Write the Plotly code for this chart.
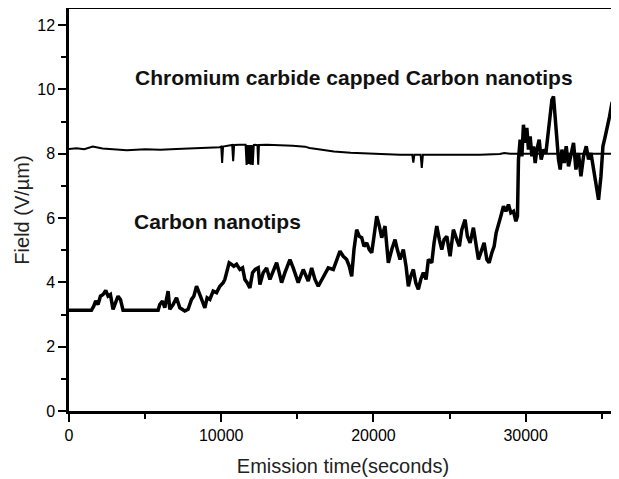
import plotly.graph_objects as go

# Carbon nanotips (time in s, field in V/um)
carbon_t = [0, 1473, 1624, 1756, 1907, 2065, 2236, 2413, 2565, 2722, 2894, 3071, 3222, 3380, 3551,
            5853, 5964, 6142, 6293, 6510, 6622, 6839, 7063, 7280, 7608, 7825, 8049, 8200, 8378, 8595,
            8772, 8924, 9075, 9253, 9469, 9693, 9910, 10127, 10239, 10351, 10522, 10679, 10831, 11008,
            11225, 11403, 11554, 11705, 11883, 12060, 12231, 12429, 12540, 12757, 12981, 13198, 13415,
            13639, 13810, 13967, 14185, 14514, 14730, 15059, 15388, 15717, 15941, 16158, 16374, 16703,
            17032, 17361, 17624, 17801, 18018, 18242, 18413, 18570, 18722, 18899, 19070, 19228, 19380,
            19557, 19728, 19886, 20037, 20215, 20386, 20544, 20761, 20872, 20978, 21201, 21418, 21570,
            21747, 21964, 22142, 22293, 22451, 22621, 22779, 22950, 23108, 23279, 23457, 23608, 23832,
            23983, 24160, 24331, 24489, 24641, 24818, 25035, 25252, 25475, 25646, 25804, 26021, 26173,
            26350, 26567, 26745, 26896, 27120, 27271, 27449, 27600, 27778, 27929, 28060, 28212, 28370,
            28541, 28699, 28870, 29028, 29199, 29357, 29461, 29527, 29637, 29749, 29855, 29967, 30078,
            30184, 30296, 30408, 30513, 30625, 30737, 30888, 31020, 31171, 31329, 31461, 31612, 31724,
            31829, 31941, 32053, 32157, 32269, 32381, 32532, 32663, 32815, 32973, 33144, 33302, 33473,
            33631, 33802, 33980, 34131, 34289, 34458, 34616, 34787, 34945, 35076, 35228, 35379, 35511,
            35669, 35820, 36000]
carbon_v = [3.13, 3.13, 3.26, 3.42, 3.31, 3.57, 3.62, 3.75, 3.57, 3.62, 3.16, 3.42, 3.57, 3.47, 3.13,
            3.13, 3.31, 3.42, 3.21, 3.73, 3.16, 3.31, 3.52, 3.21, 3.11, 3.16, 3.47, 3.57, 3.88, 3.62,
            3.42, 3.21, 3.52, 3.47, 3.73, 3.68, 3.88, 3.99, 4.09, 4.35, 4.61, 4.56, 4.50, 4.56,
            4.40, 4.45, 4.09, 3.99, 3.83, 4.30, 4.40, 4.45, 3.93, 4.30, 4.45, 4.09, 4.35,
            4.61, 4.30, 3.99, 4.30, 4.71, 4.45, 3.99, 4.40, 4.04, 4.45, 4.09, 3.88, 4.14,
            4.45, 4.40, 4.71, 4.97, 4.81, 4.71, 4.50, 4.19, 5.02, 5.64, 5.43, 5.39, 5.12,
            5.23, 5.02, 4.92, 5.43, 6.06, 5.75, 5.39, 5.75, 5.12, 4.61, 5.02, 5.33, 5.02,
            4.71, 5.02, 4.50, 3.88, 4.19, 4.40, 3.99, 3.78, 4.09, 4.30, 4.09, 4.71, 4.61,
            5.23, 5.75, 5.33, 5.02, 5.33, 5.43, 4.81, 5.64, 5.33, 5.12, 5.64, 5.95, 5.43,
            5.23, 5.70, 5.12, 4.71, 5.02, 5.23, 4.71, 4.61, 4.92, 5.12, 5.54, 5.85, 6.06,
            6.37, 6.21, 6.42, 6.16, 6.21, 5.90, 6.06, 7.82, 8.44, 7.92, 8.90, 8.34, 8.80,
            8.13, 8.54, 7.92, 8.23, 7.71, 8.13, 8.44, 7.82, 8.13, 8.02, 8.65, 9.11, 9.68,
            9.78, 9.06, 8.34, 7.82, 7.51, 8.13, 7.71, 8.23, 7.61, 8.02, 8.34, 7.51, 8.02,
            7.30, 7.92, 8.23, 7.82, 8.02, 7.51, 7.20, 6.57, 7.30, 8.23, 8.54, 8.85, 9.16,
            9.58, 9.68, 9.89]

# Chromium carbide capped carbon nanotips
capped_t = [0, 500, 1000, 1560, 2200, 3000, 3800, 5000, 6000, 7060, 8000, 9000, 9900, 10000, 10060,
            10120, 10400, 10720, 10785, 10850, 11200, 11600, 11666, 11730, 11800, 11870, 11930, 12000,
            12070, 12140, 12200, 12380, 12430, 12480, 13000, 14000, 14700, 15500, 15800, 16500, 17400,
            18500, 19600, 20500, 21750, 22550, 22620, 22690, 23100, 23175, 23250, 24000, 25000, 26000,
            27000, 28300, 28600, 29000, 29460, 30500, 32000, 34000, 36000]
capped_v = [8.15, 8.17, 8.14, 8.22, 8.16, 8.13, 8.11, 8.14, 8.12, 8.15, 8.16, 8.17, 8.20, 8.22, 7.71,
            8.22, 8.25, 8.27, 7.77, 8.27, 8.28, 8.28, 7.65, 8.27, 7.68, 8.27, 7.66, 8.27,
            7.65, 8.27, 8.28, 8.27, 7.66, 8.27, 8.28, 8.27, 8.25, 8.22, 8.18, 8.13, 8.07,
            8.03, 8.00, 7.99, 7.97, 7.97, 7.72, 7.97, 7.97, 7.56, 7.97, 7.97, 7.96, 7.97,
            7.97, 7.99, 8.02, 8.00, 8.00, 8.00, 7.99, 8.00, 8.00]

x_range = [0, 36000]
y_range = [0, 12.5]
x_ticks = [0, 10000, 20000, 30000]
y_ticks = [0, 2, 4, 6, 8, 10, 12]

fig = go.Figure()
fig.add_trace(go.Scatter(x=capped_t, y=capped_v, mode="lines",
                         line=dict(color="black", width=2), showlegend=False))
fig.add_trace(go.Scatter(x=carbon_t, y=carbon_v, mode="lines",
                         line=dict(color="black", width=3.5), showlegend=False))

font_family = "Liberation Sans, Arial, sans-serif"
fig.add_annotation(x=18755, y=10.36, text="<b>Chromium carbide capped Carbon nanotips</b>",
                   showarrow=False, font=dict(family=font_family, size=21, color="#111"))
fig.add_annotation(x=9780, y=5.89, text="<b>Carbon nanotips</b>",
                   showarrow=False, font=dict(family=font_family, size=21, color="#111"))

axis_common = dict(showgrid=False, zeroline=False, showline=True, linecolor="black",
                   linewidth=2.5, mirror=True, ticks="outside", tickwidth=2,
                   ticklen=8, tickcolor="black", automargin=False,
                   tickfont=dict(family=font_family, size=16, color="black"))
fig.update_xaxes(range=x_range, tickvals=x_ticks, ticktext=[str(v) for v in x_ticks],
                 minor=dict(dtick=5000, tick0=0, ticks="outside", ticklen=5, tickwidth=2,
                            tickcolor="black"),
                 title=dict(text="Emission time(seconds)", standoff=17,
                            font=dict(family=font_family, size=20, color="#222")),
                 **axis_common)
fig.update_yaxes(range=y_range, tickvals=y_ticks, ticktext=[str(v) for v in y_ticks],
                 minor=dict(dtick=1, tick0=0, ticks="outside", ticklen=5, tickwidth=2,
                            tickcolor="black"),
                 title=dict(text="Field (V/µm)", standoff=3,
                            font=dict(family=font_family, size=20, color="#222")),
                 **axis_common)
# page body has an 8px margin, so the figure is sized to sit inside the window
fig.update_layout(width=611, height=471, margin=dict(l=61, r=2, t=1, b=68),
                  plot_bgcolor="white", paper_bgcolor="white")
fig.write_html("out.html")
